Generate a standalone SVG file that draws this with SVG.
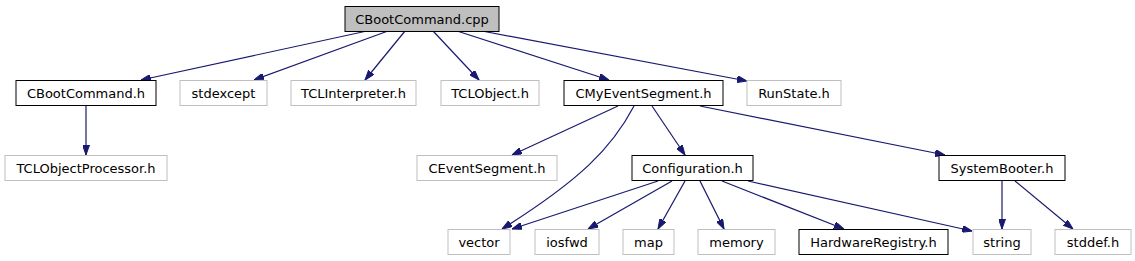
<svg xmlns="http://www.w3.org/2000/svg" width="1135" height="261" viewBox="0 0 1135 261">
<style>
.n rect{fill:#ffffff;stroke:#000000;stroke-width:1}
.g rect{fill:#ffffff;stroke:#bfbfbf;stroke-width:1}
.root rect{fill:#bfbfbf;stroke:#000000;stroke-width:1}
text{font-family:"DejaVu Sans","Noto Sans",sans-serif;font-size:13px;fill:#000000;text-anchor:middle}
#edges path{fill:none;stroke:#191970;stroke-width:1.2;marker-end:url(#ah)}
</style>
<defs>
<marker id="ah" viewBox="0 0 10 7" refX="10" refY="3.5" markerWidth="10" markerHeight="7" markerUnits="userSpaceOnUse" orient="auto">
<path d="M0,0 L10,3.5 L0,7 z" fill="#191970" stroke="#191970"/>
</marker>
</defs>
<rect width="1135" height="261" fill="#ffffff"/>
<g id="edges">
<path d="M367,31 L141,80"/>
<path d="M388,31 L254,80"/>
<path d="M405,31 L365,80"/>
<path d="M433,31 L479,80"/>
<path d="M457,31 L609,80"/>
<path d="M482,31 L747,81"/>
<path d="M86,106 L86,155"/>
<path d="M618,106 L512,155"/>
<path d="M634,106 C612,148 580,180 502,229"/>
<path d="M652,106 L685,155"/>
<path d="M700,106 L945,155"/>
<path d="M658,181 L512,229"/>
<path d="M672,181 L588,229"/>
<path d="M685,181 L658,229"/>
<path d="M700,181 L724,229"/>
<path d="M722,181 L844,229"/>
<path d="M748,181 L972,231"/>
<path d="M1002,181 L1002,229"/>
<path d="M1015,181 L1073,229"/>
</g>
<g id="CBootCommand_cpp" class="root"><rect x="345" y="6.5" width="154" height="25"/><text x="422" y="24">CBootCommand.cpp</text></g>
<g id="CBootCommand_h" class="n"><rect x="16" y="80.5" width="140" height="25"/><text x="86" y="98">CBootCommand.h</text></g>
<g id="stdexcept" class="g"><rect x="180" y="80.5" width="87" height="25"/><text x="223.5" y="98">stdexcept</text></g>
<g id="TCLInterpreter_h" class="g"><rect x="291" y="80.5" width="125" height="25"/><text x="353.5" y="98">TCLInterpreter.h</text></g>
<g id="TCLObject_h" class="g"><rect x="441" y="80.5" width="98" height="25"/><text x="490" y="98">TCLObject.h</text></g>
<g id="CMyEventSegment_h" class="n"><rect x="564" y="80.5" width="159" height="25"/><text x="643.5" y="98">CMyEventSegment.h</text></g>
<g id="RunState_h" class="g"><rect x="747" y="80.5" width="94" height="25"/><text x="794" y="98">RunState.h</text></g>
<g id="TCLObjectProcessor_h" class="g"><rect x="5" y="155.5" width="162" height="25"/><text x="86" y="173">TCLObjectProcessor.h</text></g>
<g id="CEventSegment_h" class="g"><rect x="417" y="155.5" width="140" height="25"/><text x="487" y="173">CEventSegment.h</text></g>
<g id="Configuration_h" class="n"><rect x="632" y="155.5" width="121" height="25"/><text x="692.5" y="173">Configuration.h</text></g>
<g id="SystemBooter_h" class="n"><rect x="939" y="155.5" width="126" height="25"/><text x="1002" y="173">SystemBooter.h</text></g>
<g id="vector" class="g"><rect x="448" y="229.5" width="62" height="25"/><text x="479" y="247">vector</text></g>
<g id="iosfwd" class="g"><rect x="535" y="229.5" width="64" height="25"/><text x="567" y="247">iosfwd</text></g>
<g id="map" class="g"><rect x="623" y="229.5" width="51" height="25"/><text x="648.5" y="247">map</text></g>
<g id="memory" class="g"><rect x="698" y="229.5" width="77" height="25"/><text x="736.5" y="247">memory</text></g>
<g id="HardwareRegistry_h" class="n"><rect x="799" y="229.5" width="149" height="25"/><text x="873.5" y="247">HardwareRegistry.h</text></g>
<g id="string" class="g"><rect x="973" y="229.5" width="58" height="25"/><text x="1002" y="247">string</text></g>
<g id="stddef_h" class="g"><rect x="1055" y="229.5" width="76" height="25"/><text x="1093" y="247">stddef.h</text></g>
</svg>
